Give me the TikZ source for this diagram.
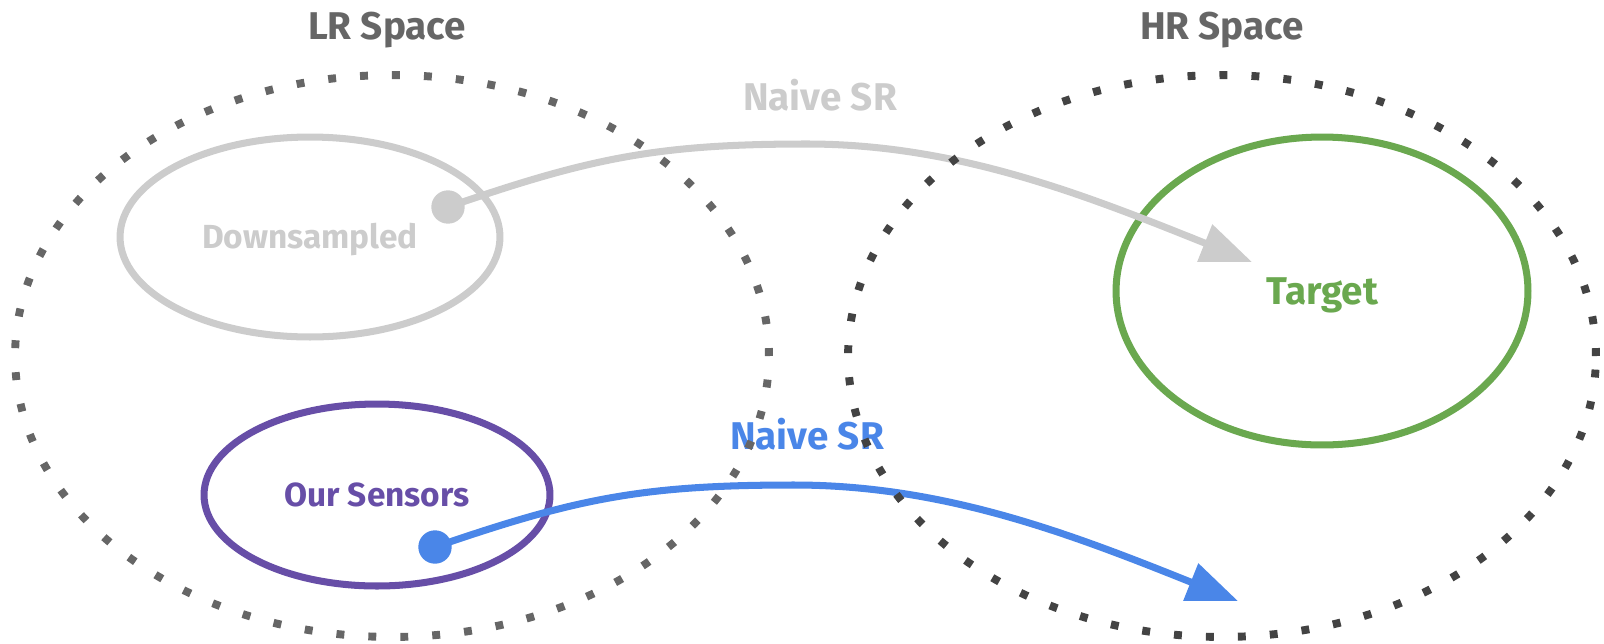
\documentclass[tikz,border=0pt]{standalone}
\usepackage{fontspec}
\setsansfont{Fira Sans}
\renewcommand{\familydefault}{\sfdefault}
\usetikzlibrary{shapes.geometric,arrows.meta}

\definecolor{spacegray}{HTML}{666666}
\definecolor{spacedark}{HTML}{434343}
\definecolor{naivegray}{HTML}{CCCCCC}
\definecolor{srblue}{HTML}{4A86E8}
\definecolor{sensorpurple}{HTML}{674EA7}
\definecolor{targetgreen}{HTML}{6AA84F}

\begin{document}
\begin{tikzpicture}[
  x=0.02cm, y=-0.02cm,
  big/.style={font=\fontsize{22}{26}\selectfont\bfseries, text height=15.2pt, text depth=0pt},
  small/.style={font=\fontsize{19}{22}\selectfont\bfseries, text height=13.1pt, text depth=0pt},
  title/.style={big, text=spacegray},
  space/.style={ellipse, draw, line width=4.5pt, line cap=butt,
    dash pattern=on 4.5pt off 13.7pt},
  set/.style={ellipse, draw, line width=4pt, small},
  srdot/.style={circle, inner sep=0pt, minimum size=19pt},
  srarrow/.style={line width=4pt, -{Triangle[length=29pt, width=22pt]}}
]
\useasboundingbox (0,0) rectangle (1604,643);

\node[set, draw=naivegray, text=naivegray, minimum width=7.6cm, minimum height=4cm]
  (down) at (310,237) {Downsampled};
\node[set, draw=sensorpurple, text=sensorpurple, minimum width=6.92cm, minimum height=3.64cm]
  (ours) at (377,495) {Our Sensors};
\node[set, big, draw=targetgreen, text=targetgreen, minimum width=8.24cm, minimum height=6.16cm]
  (target) at (1322,291) {Target};

\node[srdot, fill=naivegray] (downdot) at (448,207) {};
\node[srdot, fill=srblue]    (oursdot) at (435,547) {};
\coordinate (naivetop) at (807,144);
\coordinate (naiveend) at (1252,262);
\coordinate (ourstop)  at (794,485);
\coordinate (oursend)  at (1238,601);

\draw[srarrow, naivegray] (downdot.center) .. controls +(142,-49) and +(-150,0) .. (naivetop)
  .. controls +(150,0) and +(-167,-67) .. (naiveend);
\draw[srarrow, srblue] (oursdot.center) .. controls +(142,-49) and +(-150,0) .. (ourstop)
  .. controls +(150,0) and +(-167,-67) .. (oursend);

\node[big, text=naivegray] (naive) at (820,97)    {Naive SR};
\node[big, text=srblue]    (oursr) at (807,436.5) {Naive SR};

\node[space, draw=spacegray, minimum width=15.08cm, minimum height=11.24cm] (lr) at (392,356) {};
\node[space, draw=spacedark, minimum width=14.96cm, minimum height=11.24cm] (hr) at (1222,356) {};

\node[title] (lrtitle) at (387,26.5)  {LR Space};
\node[title] (hrtitle) at (1222,26.5) {HR Space};
\end{tikzpicture}
\end{document}
